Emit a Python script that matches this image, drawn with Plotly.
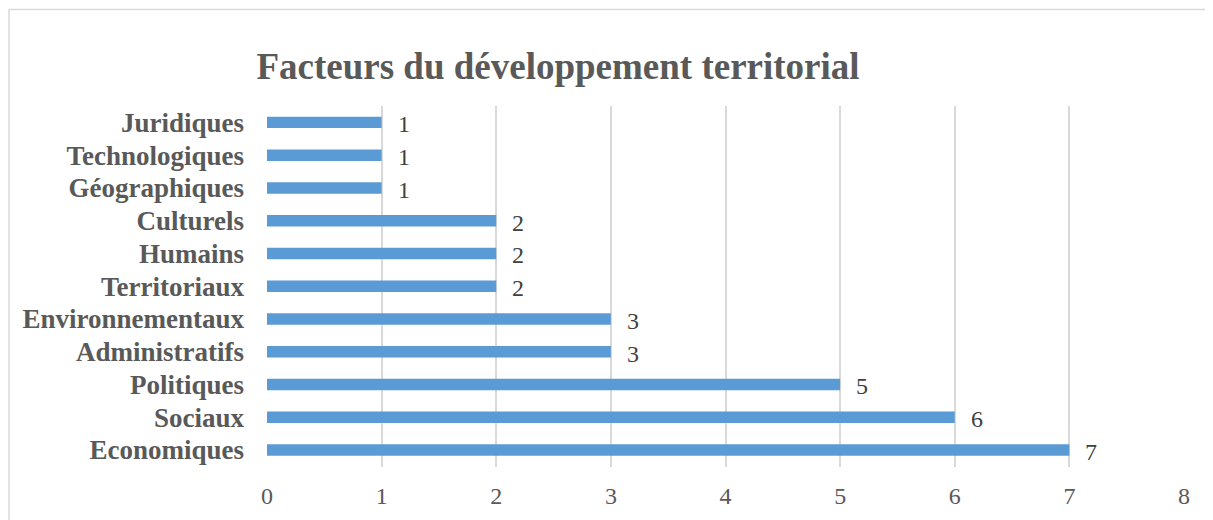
import plotly.graph_objects as go

categories = ["Economiques", "Sociaux", "Politiques", "Administratifs", "Environnementaux",
              "Territoriaux", "Humains", "Culturels", "Géographiques", "Technologiques", "Juridiques"]
values = [7, 6, 5, 3, 3, 2, 2, 2, 1, 1, 1]
x_ticks = [0, 1, 2, 3, 4, 5, 6, 7, 8]
title_text = "Facteurs du développement territorial"

SERIF = "Liberation Serif, Times New Roman, serif"

# page body has an 8px default margin; compensate
OFF = 8
W, H = 1213 - OFF, 520 - OFF
L, T = 267 - OFF, 106 - OFF
R, B = 29, 53

fig = go.Figure()
fig.add_trace(go.Bar(
    x=values, y=categories, orientation="h",
    marker=dict(color="#5B9BD5", line=dict(width=0)),
    hoverinfo="x+y",
))

for c, v in zip(categories, values):
    fig.add_annotation(x=v, y=c, text=str(v), showarrow=False, xanchor="left",
                       xshift=14, yshift=-2, font=dict(family=SERIF, size=24, color="#404040"))

pw = W - L - R
ph = H - T - B
fig.add_shape(type="rect", xref="paper", yref="paper",
              x0=(1.0 - L) / pw, x1=1.2, y0=-0.4, y1=(T + ph - 1.5) / ph,
              line=dict(color="#D9D9D9", width=1.5), fillcolor="rgba(0,0,0,0)", layer="below")

fig.update_layout(
    width=W, height=H,
    margin=dict(l=L, r=R, t=T, b=B, autoexpand=False),
    paper_bgcolor="white", plot_bgcolor="white",
    bargap=0.65,
    showlegend=False,
    title=dict(text=title_text, x=(558 - OFF) / W, xref="container", xanchor="center",
               y=1 - (66 - OFF) / H, yref="container", yanchor="middle",
               font=dict(family=SERIF, size=37, color="#595959", weight="bold")),
    xaxis=dict(range=[0, 8], tickvals=x_ticks, showgrid=True, gridcolor="#D9D9D9", gridwidth=1.5,
               zeroline=False, showline=False, ticks="", automargin=False,
               tickfont=dict(family=SERIF, size=24, color="#595959"),
               ticklabelstandoff=12, fixedrange=True),
    yaxis=dict(categoryorder="array", categoryarray=categories, showgrid=False, zeroline=False,
               showline=False, ticks="", ticklabelstandoff=22, automargin=False,
               tickfont=dict(family=SERIF, size=27, color="#595959", weight="bold")),
)

fig.write_html("out.html")
